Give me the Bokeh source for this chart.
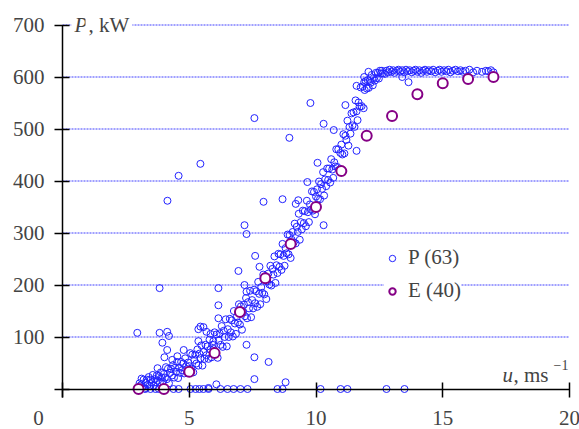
from bokeh.plotting import figure
from bokeh.models import (Range1d, FixedTicker, Label, Legend, LegendItem,
                          LinearAxis, ColumnDataSource)
from bokeh.embed import file_html
from bokeh.resources import INLINE

# ---- data ----
# measured power P (kW) vs wind speed u (m/s): main band
band_pts = [
    (3.00,2),(3.04,11),(3.08,7),(3.12,20),(3.16,4),(3.20,18),(3.24,1),(3.28,12),(3.32,18),(3.36,8),
    (3.40,23),(3.44,6),(3.48,18),(3.52,13),(3.56,27),(3.60,6),(3.64,19),(3.68,13),(3.72,26),(3.76,16),
    (3.80,25),(3.84,13),(3.88,32),(3.92,22),(3.96,14),
    (4.00,29),(4.04,22),(4.08,42),(4.12,19),(4.16,39),(4.20,11),(4.24,31),(4.28,39),(4.32,26),(4.36,46),
    (4.40,22),(4.44,41),(4.48,33),(4.52,52),(4.56,21),(4.60,41),(4.64,31),(4.68,52),(4.72,36),(4.76,49),
    (4.80,30),(4.84,59),(4.88,44),(4.92,32),(4.96,51),
    (5.00,44),(5.04,69),(5.08,39),(5.12,66),(5.16,32),(5.20,56),(5.24,66),(5.28,49),(5.32,76),(5.36,45),
    (5.40,68),(5.44,59),(5.48,84),(5.52,45),(5.56,71),(5.60,58),(5.64,85),(5.68,65),(5.72,82),(5.76,58),
    (5.80,95),(5.84,76),(5.88,61),(5.92,85),(5.96,77),
    (6.00,109),(6.04,70),(6.08,105),(6.12,60),(6.16,93),(6.20,107),(6.24,85),(6.28,121),(6.32,81),(6.36,112),
    (6.40,100),(6.44,134),(6.48,82),(6.52,115),(6.56,100),(6.60,135),(6.64,109),(6.68,132),(6.72,101),(6.76,150),
    (6.80,126),(6.84,106),(6.88,139),(6.92,128),(6.96,163),
    (7.00,124),(7.04,159),(7.08,114),(7.12,148),(7.16,162),(7.20,140),(7.24,175),(7.28,136),(7.32,167),(7.36,155),
    (7.40,189),(7.44,138),(7.48,171),(7.52,155),(7.56,191),(7.60,165),(7.64,188),(7.68,158),(7.72,206),(7.76,183),
    (7.80,163),(7.84,196),(7.88,185),(7.92,220),(7.96,182),
    (8.00,217),(8.04,173),(8.08,207),(8.12,222),(8.16,201),(8.20,237),(8.24,199),(8.28,231),(8.32,220),(8.36,255),
    (8.40,204),(8.44,238),(8.48,223),(8.52,260),(8.56,235),(8.60,259),(8.64,229),(8.68,279),(8.72,256),(8.76,237),
    (8.80,271),(8.84,261),(8.88,297),(8.92,259),(8.96,296),
    (9.00,252),(9.04,287),(9.08,302),(9.12,282),(9.16,318),(9.20,280),(9.24,312),(9.28,302),(9.32,337),(9.36,287),
    (9.40,321),(9.44,307),(9.48,343),(9.52,319),(9.56,342),(9.60,313),(9.64,362),(9.68,340),(9.72,321),(9.76,355),
    (9.80,345),(9.84,380),(9.88,343),(9.92,379),(9.96,336),
    (10.00,370),(10.04,384),(10.08,366),(10.12,399),(10.16,365),(10.20,394),(10.24,385),(10.28,417),(10.32,372),
    (10.36,403),(10.40,390),(10.44,424),(10.48,402),(10.52,424),(10.56,397),(10.60,442),(10.64,422),(10.68,406),
    (10.72,436),(10.76,428),(10.80,461),(10.84,427),(10.88,461),(10.92,422),(10.96,454),
    (11.00,470),(11.04,451),(11.08,490),(11.12,453),(11.16,487),(11.20,479),(11.24,516),(11.28,468),(11.32,504),
    (11.36,491),(11.40,530),(11.44,507),(11.48,532),(11.52,504),(11.56,555),(11.60,534),(11.64,517),(11.68,551),
    (11.72,543),(11.76,580),(11.80,544),(11.84,582),(11.88,540),(11.92,575),(11.96,592),
    (12.00,578),(12.04,594),(12.08,579),(12.12,592),(12.16,589),(12.20,604),(12.24,584),(12.28,598),(12.32,593),
    (12.36,608),(12.40,598),(12.44,608),(12.48,597),(12.52,612),(12.56,607),(12.60,612),(12.64,607),
]
# rated-power plateau
plateau_pts = [
    (12.72,606),(12.78,612),(12.85,609),(12.9,614),(12.98,610),(13.05,613),(13.1,608),(13.18,612),(13.25,614),
    (13.32,610),(13.4,613),(13.48,609),(13.55,614),(13.62,611),(13.7,613),(13.78,609),(13.85,612),(13.92,614),
    (14.0,610),(14.08,613),(14.15,608),(14.22,612),(14.3,614),(14.38,610),(14.45,613),(14.55,611),(14.62,614),
    (14.7,609),(14.8,612),(14.88,614),(14.95,610),(15.05,613),(15.15,611),(15.22,614),(15.3,609),(15.4,612),
    (15.5,614),(15.6,611),(15.7,613),(15.8,610),(15.9,612),(16.05,614),(16.2,609),(16.35,612),(16.55,610),
    (16.7,612),(16.8,611),(16.9,613),(17.0,609),
]
# scattered readings
outlier_pts = [
    (2.95,108),(3.83,194),(3.83,108),(3.94,89),(4.13,110),(4.2,102),(4.13,75),(4.02,61),(4.33,56),(4.53,63),
    (4.78,75),(3.75,40),(4.14,362),(4.58,410),(5.44,433),(5.36,115),(5.44,120),(5.56,119),(5.68,110),(5.36,92),
    (5.84,106),(5.95,92),(6.15,194),(6.15,161),(6.15,136),(6.94,227),(7.18,200),(7.26,187),(7.6,256),(7.77,235),
    (7.18,315),(7.26,298),(7.57,521),(7.93,360),(8.68,365),(8.95,483),(9.78,550),(9.2,356),(9.3,363),(9.66,398),
    (10.3,315),(10.06,435),(10.3,510),(10.7,498),(11.16,546),(11.6,583),(11.6,458),(13.65,590),(13.4,600),
    (11.9,600),(11.9,590),(12.07,610),(7.26,85),(7.57,61),(7.57,19),(8.13,52),(8.8,13),(6.07,9),(5.76,2),
]
# zero-output readings (P = 0)
zero_u = [3.08,3.27,3.47,3.67,3.8,4.38,4.58,5.05,5.25,5.4,5.56,5.76,6.23,6.51,6.75,7.02,7.3,
          8.48,8.68,10.18,10.97,11.24,12.78,13.49]

# estimated power curve E
e_u = [3, 4, 5, 6, 7, 8, 9, 10, 11, 12, 13, 14, 15, 16, 17]
e_p = [0, 0, 33, 69, 148, 213, 279, 350, 419, 487, 525, 567, 588, 596, 600]

x_ticks = [0, 5, 10, 15, 20]
y_ticks = [0, 100, 200, 300, 400, 500, 600, 700]
legend_labels = ["P (63)", "E (40)"]

FONT = "Liberation Serif"
FS = "21px"

blue_pts = band_pts + plateau_pts + outlier_pts + [(u, 0) for u in zero_u]
blue_src = ColumnDataSource(dict(u=[a for a, b in blue_pts], p=[b for a, b in blue_pts]))
e_src = ColumnDataSource(dict(u=e_u, p=e_p))
grid_src = ColumnDataSource(dict(y=y_ticks[1:]))

# whole canvas is the plotting frame: x=0 at 62px, 25.35 px/unit; y=0 at 389px, 0.52 px/kW
W, H = 579, 429
p = figure(frame_width=W, frame_height=H,
           x_range=Range1d(-62 / 25.35, 20 + 10 / 25.35),
           y_range=Range1d(-40.5 / 0.52, 388.5 / 0.52),
           x_axis_location=None, y_axis_location=None,
           output_backend="svg", toolbar_location=None,
           min_border_left=0, min_border_right=0, min_border_top=0, min_border_bottom=0)
p.outline_line_color = None
p.background_fill_color = "white"
p.border_fill_color = "white"
p.xgrid.visible = False
p.ygrid.visible = False

# dotted blue horizontal grid lines spanning the x axis extent
p.segment(x0=x_ticks[0], x1=x_ticks[-1], y0="y", y1="y", source=grid_src,
          line_color="#0000ff", line_alpha=0.75, line_dash="2 1", line_width=1)

def make_axis(ticks, bounds):
    return LinearAxis(fixed_location=0, bounds=bounds, ticker=FixedTicker(ticks=ticks),
                      major_label_overrides={t: "" for t in ticks},
                      axis_line_width=1.5, major_tick_line_width=1.5,
                      major_tick_in=7, major_tick_out=8, minor_tick_line_color=None)

p.add_layout(make_axis(x_ticks, (0, 20)), "below")
p.add_layout(make_axis(y_ticks, (-15.4, 700)), "left")

r_blue = p.scatter("u", "p", source=blue_src, marker="circle", size=7,
                   fill_color=None, line_color="#2222ff", line_width=1)
r_e = p.scatter("u", "p", source=e_src, marker="circle", size=10,
                fill_color="white", line_color="#850085", line_width=2)

legend = Legend(items=[LegendItem(label=legend_labels[0], renderers=[r_blue]),
                       LegendItem(label=legend_labels[1], renderers=[r_e])],
                location=(384, 126), orientation="vertical",
                label_text_font=FONT, label_text_font_size=FS,
                glyph_width=16, glyph_height=20, label_height=20, label_standoff=8,
                spacing=8, padding=4, margin=0,
                border_line_color=None, background_fill_color="white", background_fill_alpha=1)
p.add_layout(legend)

# tick labels
for t in y_ticks[1:]:
    p.add_layout(Label(x=0, y=t, x_offset=-18, text=str(t), text_font=FONT, text_font_size=FS,
                       text_align="right", text_baseline="middle"))
for t in x_ticks[1:]:
    p.add_layout(Label(x=t, y=0, y_offset=-29, text=str(t), text_font=FONT, text_font_size=FS,
                       text_align="center", text_baseline="middle"))
p.add_layout(Label(x=0, y=0, x_offset=-24, y_offset=-29, text="0", text_font=FONT,
                   text_font_size=FS, text_align="center", text_baseline="middle"))

# y-axis title "P, kW" (white background hides the top grid line behind it)
p.add_layout(Label(x=0, y=700, x_offset=9, text="P", text_font=FONT,
                   text_font_style="italic", text_font_size=FS, text_baseline="middle",
                   background_fill_color="white", padding=3))
p.add_layout(Label(x=0, y=700, x_offset=23, text=", kW", text_font=FONT,
                   text_font_size=FS, text_baseline="middle",
                   background_fill_color="white", padding=3))
# x-axis title "u, ms^-1"
p.add_layout(Label(x=20, y=0, x_offset=-67, y_offset=14, text="u", text_font=FONT,
                   text_font_style="italic", text_font_size=FS, text_baseline="alphabetic"))
p.add_layout(Label(x=20, y=0, x_offset=-56, y_offset=14, text=", ms", text_font=FONT,
                   text_font_size=FS, text_baseline="alphabetic"))
p.add_layout(Label(x=20, y=0, x_offset=-16, y_offset=24, text="\u22121", text_font=FONT,
                   text_font_size="14px", text_baseline="alphabetic"))

open("out.html", "w").write(file_html(p, INLINE))
